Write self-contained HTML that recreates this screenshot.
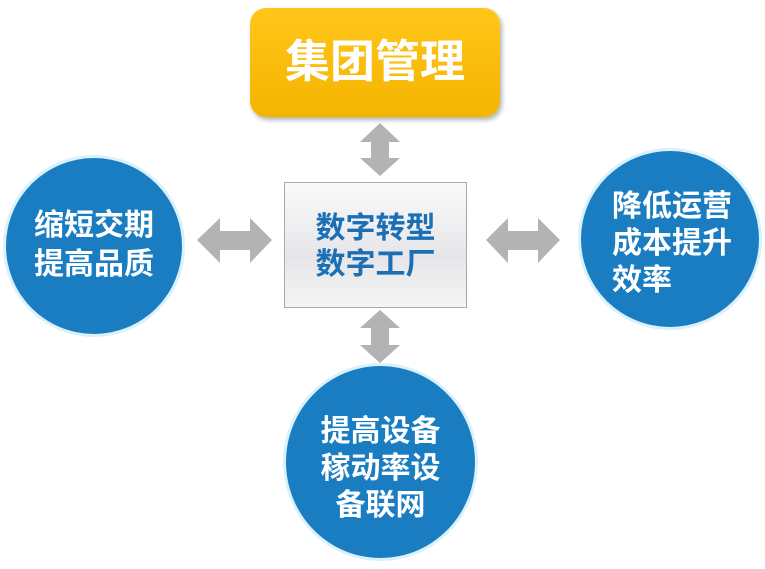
<!DOCTYPE html>
<html><head><meta charset="utf-8"><style>
body{margin:0;width:765px;height:569px;background:#fff;position:relative;overflow:hidden;font-family:"Liberation Sans","Noto Sans CJK SC",sans-serif;font-weight:bold}
.c{position:absolute;border-radius:50%;background:#1b7dc1;box-shadow:0 0 0 3px #d9f1fb;color:#fff;font-size:30px;line-height:38px}
.t{position:absolute;white-space:nowrap}
</style></head><body>
<div style="position:absolute;left:250px;top:8px;width:250px;height:109px;border-radius:16px;background:linear-gradient(#ffc61a,#f5b400);box-shadow:2px 3px 5px rgba(0,0,0,.3)"></div>
<div class="t" style="left:250px;width:250px;top:34px;text-align:center;color:#fff;font-size:45px;line-height:56px">集团管理</div>
<div style="position:absolute;left:284px;top:182px;width:181px;height:124px;border:1px solid #aaa;background:linear-gradient(#fafafa,#e6e6ea 60%,#f4f4f4)"></div>
<div class="t" style="left:284px;width:183px;top:211px;text-align:center;color:#1a6fb5;font-size:30px;line-height:36px">数字转型<br>数字工厂</div>
<svg width="765" height="569" style="position:absolute;left:0;top:0">
<g fill="#b3b3b3">
<polygon points="380,123 400,142 389,142 389,158 400,158 380,176 360,158 371,158 371,142 360,142"/>
<polygon points="380,310 400,328 389,328 389,345 400,345 380,363 360,345 371,345 371,328 360,328"/>
<polygon points="197,240 220,218 220,231 250,231 250,218 272,240 250,263 250,250 220,250 220,263"/>
<polygon points="486,240 508,218 508,231 538,231 538,218 560,240 538,263 538,250 508,250 508,263"/>
</g></svg>
<div class="c" style="left:6px;top:158px;width:176px;height:176px"></div>
<div class="t" style="left:6px;width:176px;top:206px;text-align:center;color:#fff;font-size:30px;line-height:39px">缩短交期<br>提高品质</div>
<div class="c" style="left:581px;top:151px;width:178px;height:176px"></div>
<div class="t" style="left:612px;top:188px;color:#fff;font-size:30px;line-height:37px">降低运营<br>成本提升<br>效率</div>
<div class="c" style="left:286px;top:366px;width:189px;height:192px"></div>
<div class="t" style="left:286px;width:189px;top:413px;text-align:center;color:#fff;font-size:30px;line-height:37px">提高设备<br>稼动率设<br>备联网</div>
</body></html>
